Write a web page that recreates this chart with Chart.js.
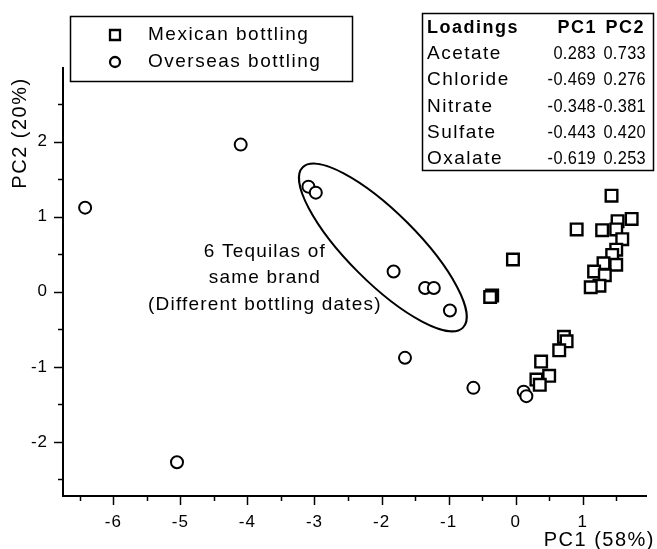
<!DOCTYPE html>
<html>
<head>
<meta charset="utf-8">
<script src="https://cdn.jsdelivr.net/npm/chart.js@4"></script>
<style>
  html, body { margin: 0; padding: 0; background: #fff; }
  #wrap { width: 657px; height: 549px; }
</style>
</head>
<body>
<div id="wrap"><canvas id="pcaChart" width="657" height="549"></canvas></div>
<script>
// scores
const mexicanPC1 = [1.43, 0.91, 1.29, 1.52, 1.73, 1.50, 1.59, 1.50, 1.44, 1.31, 1.50, 1.17, 1.33, 1.25, 1.12,
                    -0.04, -0.35, -0.38,
                    0.72, 0.76, 0.65, 0.38, 0.50, 0.31, 0.36];
const mexicanPC2 = [1.28, 0.83, 0.82, 0.94, 0.97, 0.83, 0.70, 0.56, 0.49, 0.38, 0.36, 0.27, 0.22, 0.08, 0.06,
                    0.43, -0.05, -0.07,
                    -0.60, -0.66, -0.78, -0.93, -1.12, -1.17, -1.24];
const overseasPC1 = [-6.42, -4.10, -5.05, -3.09, -2.98, -1.82, -1.35, -1.22, -0.98, -1.65, -0.63, 0.12, 0.16];
const overseasPC2 = [1.12, 1.96, -2.27, 1.40, 1.32, 0.27, 0.05, 0.05, -0.25, -0.88, -1.28, -1.33, -1.39];

const seriesNames = ["Mexican bottling", "Overseas bottling"];

// loadings table
const loadingNames = ["Acetate", "Chloride", "Nitrate", "Sulfate", "Oxalate"];
const loadingPC1 = [0.283, -0.469, -0.348, -0.443, -0.619];
const loadingPC2 = [0.733, 0.276, -0.381, 0.420, 0.253];

// annotation: ellipse around the 6 tequilas of the same brand
const noteLines = ["6 Tequilas of", "same brand", "(Different bottling dates)"];
const noteX = -3.74;
const noteY = [0.53, 0.18, -0.17];
const ellipseCenter = [-1.98, 0.59];

const FONT = "'Liberation Sans', Arial, sans-serif";

function toPoints(xs, ys) {
    return xs.map(function (v, i) { return { x: v, y: ys[i] }; });
}

function spacedText(ctx, txt, x, y, size, bold, align) {
    ctx.font = (bold ? "bold " : "") + size + "px " + FONT;
    ctx.textAlign = align || "left";
    ctx.textBaseline = "middle";
    ctx.fillStyle = "#000";
    ctx.fillText(txt, x, y);
}

// numbers in the table are set a bit narrower than the words
function numText(ctx, txt, xRight, y) {
    ctx.save();
    ctx.letterSpacing = "0.4px";
    ctx.translate(xRight, y);
    ctx.scale(0.86, 1);
    spacedText(ctx, txt, 0, 0, 19, false, "right");
    ctx.restore();
}

const decor = {
    id: "decor",
    beforeDraw(chart) {
        chart.ctx.letterSpacing = "1px";
    },
    afterDraw(chart) {
        const ctx = chart.ctx;
        const xs = chart.scales.x, ys = chart.scales.y;
        const area = chart.chartArea;
        ctx.save();
        ctx.letterSpacing = "1.5px";
        ctx.strokeStyle = "#000";

        // tick marks, long for whole units and short for halves
        ctx.lineWidth = 1.5;
        xs.ticks.forEach(function (t) {
            const len = Number.isInteger(t.value) ? 9 : 5;
            const px = Math.round(xs.getPixelForValue(t.value)) + 0.5;
            ctx.beginPath();
            ctx.moveTo(px, area.bottom);
            ctx.lineTo(px, area.bottom + len);
            ctx.stroke();
        });
        ys.ticks.forEach(function (t) {
            const len = Number.isInteger(t.value) ? 9 : 5;
            const py = Math.round(ys.getPixelForValue(t.value)) + 0.5;
            ctx.beginPath();
            ctx.moveTo(area.left - len, py);
            ctx.lineTo(area.left, py);
            ctx.stroke();
        });

        // axis titles
        spacedText(ctx, "PC1 (58%)", 655, 540, 20, false, "right");
        ctx.save();
        ctx.translate(20, 133);
        ctx.rotate(-Math.PI / 2);
        spacedText(ctx, "PC2 (20%)", 0, 0, 20, false, "center");
        ctx.restore();

        // ellipse
        const unit = xs.getPixelForValue(1) - xs.getPixelForValue(0);
        ctx.lineWidth = 2;
        ctx.beginPath();
        ctx.ellipse(xs.getPixelForValue(ellipseCenter[0]), ys.getPixelForValue(ellipseCenter[1]),
            1.69 * unit, 0.52 * unit, Math.PI / 4, 0, Math.PI * 2);
        ctx.stroke();

        ctx.save();
        ctx.letterSpacing = "1.2px";
        noteLines.forEach(function (line, i) {
            spacedText(ctx, line, xs.getPixelForValue(noteX), ys.getPixelForValue(noteY[i]), 19, false, "center");
        });
        ctx.restore();

        // legend box
        ctx.fillStyle = "#fff";
        ctx.fillRect(70, 16, 283, 66);
        ctx.lineWidth = 1.5;
        ctx.strokeRect(70.5, 16.5, 282, 65);
        const ds = chart.data.datasets;
        [35, 62].forEach(function (ly, i) {
            ctx.lineWidth = 2.3;
            ctx.fillStyle = "#fff";
            ctx.beginPath();
            if (ds[i].pointStyle === "rect") {
                ctx.rect(110, ly - 5, 10, 10);
            } else {
                ctx.arc(115, ly, 5, 0, Math.PI * 2);
            }
            ctx.fill();
            ctx.stroke();
            spacedText(ctx, ds[i].label, 148, ly, 19, false, "left");
        });

        // loadings table
        ctx.fillStyle = "#fff";
        ctx.fillRect(422, 13, 231, 158);
        ctx.lineWidth = 1.5;
        ctx.strokeRect(422.5, 13.5, 231, 157);
        spacedText(ctx, "Loadings", 427, 28, 18, true, "left");
        spacedText(ctx, "PC1", 597, 28, 18, true, "right");
        spacedText(ctx, "PC2", 645, 28, 18, true, "right");
        loadingNames.forEach(function (nm, i) {
            const ry = 54 + i * 26.2;
            spacedText(ctx, nm, 427, ry, 19, false, "left");
            numText(ctx, loadingPC1[i].toFixed(3), 596, ry);
            numText(ctx, loadingPC2[i].toFixed(3), 646, ry);
        });
        ctx.restore();
    }
};

const ctx = document.getElementById("pcaChart").getContext("2d");
new Chart(ctx, {
    type: "scatter",
    data: {
        datasets: [{
            label: seriesNames[0],
            data: toPoints(mexicanPC1, mexicanPC2),
            pointStyle: "rect",
            pointRadius: 8.2,
            borderWidth: 2.4,
            borderColor: "#000",
            backgroundColor: "#fff"
        }, {
            label: seriesNames[1],
            data: toPoints(overseasPC1, overseasPC2),
            pointStyle: "circle",
            pointRadius: 6,
            borderWidth: 2,
            borderColor: "#000",
            backgroundColor: "#fff"
        }]
    },
    options: {
        responsive: false,
        animation: false,
        events: [],
        layout: { padding: { top: 68, right: 2, left: 0, bottom: 0 } },
        plugins: { legend: { display: false }, tooltip: { enabled: false } },
        scales: {
            x: {
                type: "linear",
                min: -6.75,
                max: 1.95,
                border: { display: true, color: "#000", width: 2 },
                grid: { display: false, drawTicks: false },
                ticks: {
                    stepSize: 0.5,
                    includeBounds: false,
                    autoSkip: false,
                    maxRotation: 0,
                    padding: 16,
                    color: "#000",
                    font: { family: FONT, size: 17 },
                    callback: function (v) { return Number.isInteger(v) ? String(v) : ""; }
                },
                afterFit: function (s) { s.height = 53; }
            },
            y: {
                type: "linear",
                min: -2.72,
                max: 2.98,
                border: { display: true, color: "#000", width: 2 },
                grid: { display: false, drawTicks: false },
                ticks: {
                    stepSize: 0.5,
                    includeBounds: false,
                    autoSkip: false,
                    padding: 15,
                    color: "#000",
                    font: { family: FONT, size: 17 },
                    callback: function (v) { return Number.isInteger(v) ? String(v) : ""; }
                },
                afterFit: function (s) { s.width = 63; }
            }
        }
    },
    plugins: [decor]
});
</script>
</body>
</html>
